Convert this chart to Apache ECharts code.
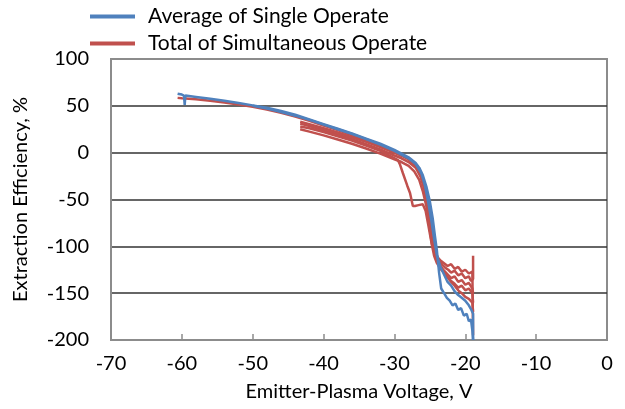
<!DOCTYPE html>
<html>
<head>
<meta charset="utf-8">
<script src="https://cdn.jsdelivr.net/npm/echarts@6/dist/echarts.min.js"></script>
<style>
  html, body { margin: 0; padding: 0; background: #fff; }
  #chart { width: 625px; height: 409px; }
</style>
</head>
<body>
<div id="chart"></div>
<script>
// Axis ticks
const xTicks = [-70, -60, -50, -40, -30, -20, -10, 0];
const yTicks = [-200, -150, -100, -50, 0, 50, 100];

// Average of Single Operate (blue)
const blue1V = [-60.6, -60, -59.7, -59.6, -59.5, -59, -58, -56, -54, -52, -50, -48, -46, -44, -42, -40, -38, -36, -34, -32, -30, -29, -28, -27, -26.5, -26, -25.5, -25, -24.6, -24.3, -24, -23.7, -23.4, -23, -22.6, -22.2, -21.8, -21.4, -21, -20.6, -20.2, -19.8, -19.5, -19.2, -19, -18.9];
const blue1E = [63, 62, 61, 51, 61, 60.5, 59.5, 57.5, 55.5, 53, 50.5, 48, 44.5, 40.5, 35.5, 30.5, 25.5, 20.5, 15, 9.5, 3, -1, -5, -11, -16, -24, -36, -52, -70, -88, -105, -128, -145, -150, -155, -158, -163, -161, -168, -166, -174, -172, -180, -178, -190, -200];
const blue2V = [-50, -48, -46, -44, -42, -40, -38, -36, -34, -32, -30, -29, -28, -27, -26.2, -25.7, -25.2, -24.8, -24.4, -24, -23.5, -23, -22.5, -22, -21.5, -21, -20.5, -20, -19.5, -19.2, -18.9, -18.9];
const blue2E = [50, 47, 43.5, 39.5, 35, 30, 25, 20, 14.5, 8.5, 2, -2, -6, -12, -22, -35, -54, -72, -92, -110, -122, -130, -138, -142, -148, -152, -155, -158, -163, -167, -172, -200];

// Total of Simultaneous Operate (red runs)
const red1V = [-60.6, -60, -58, -56, -54, -52, -50, -48, -46, -44, -42, -40, -38, -36, -34, -32, -30, -29, -28, -27, -26.3, -25.8, -25.4, -25, -24.6, -24.3, -24, -23.6, -23.2, -22.8, -22.4, -22, -21.5, -21, -20.5, -20, -19.5, -19.2, -18.9, -18.9];
const red1E = [58.5, 58, 57, 55.5, 53.5, 51.5, 49, 46, 42.5, 38.5, 34, 29, 24, 18.5, 13, 7, 0, -3, -7, -14, -24, -37, -54, -72, -88, -100, -110, -116, -120, -123, -125, -128, -126, -131, -129, -134, -132, -137, -135, -110];
const red2V = [-43.3, -42, -40, -38, -36, -34, -32, -30, -29, -28, -27, -26.3, -25.7, -25.3, -25, -24.6, -24.2, -23.8, -23.4, -23, -22.5, -22, -21.5, -21, -20.5, -20, -19.5, -19, -18.9];
const red2E = [31, 28.5, 24, 19.5, 14.5, 9, 3.5, -3, -6, -10, -16, -26, -41, -58, -75, -95, -108, -116, -122, -126, -130, -134, -132, -138, -136, -141, -139, -145, -150];
const red3V = [-43.3, -42, -40, -38, -36, -34, -32, -30.5, -29.5, -29.2, -28.8, -28.2, -27.8, -27.4, -27.1, -26.6, -26, -25.6, -25.2, -24.8, -24.4, -24, -23.5, -23, -22.5, -22, -21.5, -21, -20.5, -20, -19.5, -19, -18.9];
const red3E = [28, 26, 22, 17.5, 13, 7.5, 2, -4, -8, -13, -22, -35, -43, -57, -57, -56, -55, -62, -78, -95, -110, -118, -124, -128, -133, -137, -140, -144, -142, -147, -145, -150, -160];
const red4V = [-43.3, -42, -40, -38, -36, -34, -32, -30, -29, -28, -27, -26.3, -25.7, -25.2, -24.8, -24.4, -24, -23.5, -23, -22.5, -22, -21.5, -21, -20.5, -20, -19.5, -19, -18.9];
const red4E = [33, 30.5, 26, 21.5, 16.5, 11.5, 6, 0, -3, -7, -13, -22, -37, -55, -75, -96, -112, -122, -128, -133, -138, -142, -147, -150, -154, -156, -160, -170];
const red5V = [-43.3, -42, -40, -38, -36, -34, -32, -30, -29, -28, -27.2, -26.5, -26, -25.5, -25.1, -24.7, -24.3, -23.9, -23.5, -23, -22.5, -22, -21.5, -21, -20.5, -20, -19.5, -19, -18.9];
const red5E = [25, 22.5, 18.5, 14, 9.5, 4.5, -1, -7, -10, -14, -20, -29, -41, -57, -77, -98, -108, -112, -115, -118, -121, -119, -124, -122, -127, -125, -129, -127, -195];

const BLUE = "#4F81BD";
const RED = "#C0504D";
const FONT = "Lato";

const pairs = (v, e) => v.map((x, i) => [x, e[i]]);

const runs = [
  { name: "Total of Simultaneous Operate", color: RED, data: pairs(red1V, red1E) },
  { name: "Total of Simultaneous Operate", color: RED, data: pairs(red2V, red2E) },
  { name: "Total of Simultaneous Operate", color: RED, data: pairs(red3V, red3E) },
  { name: "Total of Simultaneous Operate", color: RED, data: pairs(red4V, red4E) },
  { name: "Total of Simultaneous Operate", color: RED, data: pairs(red5V, red5E) },
  { name: "Average of Single Operate", color: BLUE, data: pairs(blue2V, blue2E) },
  { name: "Average of Single Operate", color: BLUE, data: pairs(blue1V, blue1E) },
];

const chart = echarts.init(document.getElementById("chart"));

const options = {
  animation: false,
  backgroundColor: "#ffffff",
  textStyle: { fontFamily: FONT },
  legend: {
    data: ["Average of Single Operate", "Total of Simultaneous Operate"],
    orient: "vertical",
    left: 85,
    top: 1,
    itemWidth: 45,
    itemHeight: 4,
    itemGap: 6,
    icon: "rect",
    textStyle: {
      fontFamily: FONT,
      fontSize: 21,
      color: "#000",
      padding: [0, 0, 0, 8],
    },
  },
  grid: {
    left: 111,
    right: 18,
    top: 59,
    bottom: 69,
    show: true,
    borderColor: "#8c8c8c",
    borderWidth: 2,
  },
  xAxis: {
    type: "value",
    min: xTicks[0],
    max: xTicks[xTicks.length - 1],
    interval: 10,
    name: "Emitter-Plasma Voltage, V",
    nameLocation: "middle",
    nameGap: 42,
    nameTextStyle: { fontFamily: FONT, fontSize: 20, color: "#000" },
    axisLine: { onZero: false, lineStyle: { color: "#8c8c8c", width: 2 } },
    axisTick: { show: true, inside: true, length: 6, lineStyle: { color: "#8c8c8c", width: 1.5 } },
    axisLabel: { fontFamily: FONT, fontSize: 20, color: "#000", margin: 14 },
    splitLine: { show: false },
  },
  yAxis: {
    type: "value",
    min: yTicks[0],
    max: yTicks[yTicks.length - 1],
    interval: 50,
    name: "Extraction Efficiency, %",
    nameLocation: "middle",
    nameGap: 80,
    nameTextStyle: { fontFamily: FONT, fontSize: 20, color: "#000" },
    axisLine: { onZero: false, lineStyle: { color: "#8c8c8c", width: 2 } },
    axisTick: { show: false },
    axisLabel: { fontFamily: FONT, fontSize: 20, color: "#000", margin: 22 },
    splitLine: {
      show: true,
      lineStyle: {
        color: ["#8c8c8c", "#333", "#333", "#333", "#333", "#333", "#8c8c8c"],
        width: 1.5,
      },
    },
  },
  series: runs.map((r) => ({
    name: r.name,
    type: "line",
    data: r.data,
    showSymbol: false,
    symbol: "none",
    lineStyle: { color: r.color, width: 2.5 },
    itemStyle: { color: r.color },
  })),
};

chart.setOption(options);
</script>
</body>
</html>
